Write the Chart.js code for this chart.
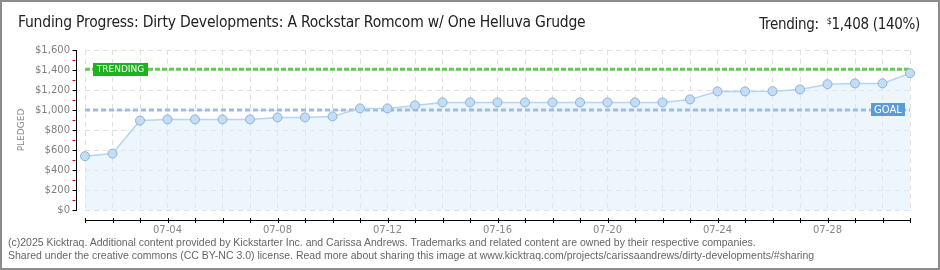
<!DOCTYPE html>
<html>
<head>
<meta charset="utf-8">
<script src="https://cdn.jsdelivr.net/npm/chart.js@4.4.1/dist/chart.umd.min.js"></script>
<style>
  html, body { margin: 0; padding: 0; background: #fff; }
  #wrap { position: relative; width: 940px; height: 270px; overflow: hidden; }
  #frame { position: absolute; left: 0; top: 0; width: 940px; height: 270px; box-sizing: border-box; border: 2px solid #8c8c8c; pointer-events: none; }
  canvas { position: absolute; left: 0; top: 0; }
  .title { position: absolute; left: 18px; top: 14px; font-family: "Liberation Sans Narrow", "DejaVu Sans Condensed", sans-serif; font-size: 15.5px; letter-spacing: -0.2px; line-height: 17px; color: #222; white-space: nowrap; }
  .trend { position: absolute; right: 20px; top: 13px; font-family: "Liberation Sans Narrow", "DejaVu Sans Condensed", sans-serif; font-size: 15px; letter-spacing: -0.3px; line-height: 17px; color: #222; white-space: nowrap; }
  .trend sup { font-size: 9px; vertical-align: 5px; }
  .foot { position: absolute; left: 8px; font-family: "Liberation Sans", sans-serif; font-size: 10.5px; line-height: 12px; color: #666; white-space: nowrap; }
</style>
</head>
<body>
<div id="wrap">
  <canvas id="c" width="940" height="270"></canvas>
  <div class="title">Funding Progress: Dirty Developments: A Rockstar Romcom w/ One Helluva Grudge</div>
  <div class="trend">Trending:&nbsp; <sup>$</sup>1,408 (140%)</div>
  <div class="foot" style="top:236px">(c)2025 Kicktraq. Additional content provided by Kickstarter Inc. and Carissa Andrews. Trademarks and related content are owned by their respective companies.</div>
  <div class="foot" style="top:249px">Shared under the creative commons (CC BY-NC 3.0) license. Read more about sharing this image at www.kicktraq.com/projects/carissaandrews/dirty-developments/#sharing</div>
  <div id="frame"></div>
</div>
<script>
const days = ["07-01","07-02","07-03","07-04","07-05","07-06","07-07","07-08","07-09","07-10",
              "07-11","07-12","07-13","07-14","07-15","07-16","07-17","07-18","07-19","07-20",
              "07-21","07-22","07-23","07-24","07-25","07-26","07-27","07-28","07-29","07-30","07-31"];
const pledged = [538, 564, 894, 906, 906, 906, 906, 926, 926, 936,
                 1016, 1016, 1046, 1076, 1076, 1076, 1076, 1076, 1076, 1076,
                 1076, 1076, 1106, 1186, 1186, 1188, 1206, 1258, 1266, 1266, 1368];
const TRENDING = 1408;
const GOAL = 1000;
const yTicks = [0, 200, 400, 600, 800, 1000, 1200, 1400, 1600];

const trendLine = days.map(() => TRENDING);
const goalLine = days.map(() => GOAL);

const axesPlugin = {
  id: 'axesPlugin',
  afterDraw(chart) {
    const ctx = chart.ctx, x = chart.scales.x, y = chart.scales.y, ca = chart.chartArea;
    ctx.save();
    const ax = ca.left - 8.5;
    ctx.strokeStyle = '#000'; ctx.lineWidth = 1;
    ctx.beginPath();
    ctx.moveTo(ax, y.getPixelForValue(1600)); ctx.lineTo(ax, y.getPixelForValue(0) + 0.5);
    ctx.stroke();
    yTicks.forEach(v => {
      const py = Math.round(y.getPixelForValue(v)) + 0.5;
      ctx.strokeStyle = '#000';
      ctx.beginPath(); ctx.moveTo(ax - 4, py); ctx.lineTo(ax + 0.5, py); ctx.stroke();
      if (v < 1600) {
        const pm = Math.round(y.getPixelForValue(v + 100)) + 0.5;
        ctx.strokeStyle = '#e00000';
        ctx.beginPath(); ctx.moveTo(ax - 4, pm); ctx.lineTo(ax - 1, pm); ctx.stroke();
      }
    });
    const ay = ca.bottom + 10.5;
    ctx.strokeStyle = '#000';
    ctx.beginPath(); ctx.moveTo(x.getPixelForValue(0), ay); ctx.lineTo(x.getPixelForValue(days.length - 1) + 1, ay); ctx.stroke();
    days.forEach((d, i) => {
      const px = Math.round(x.getPixelForValue(i)) + 0.5;
      ctx.beginPath(); ctx.moveTo(px, ay - 2.5); ctx.lineTo(px, ay + 2.5); ctx.stroke();
    });
    ctx.restore();
  },
  afterDatasetsDraw(chart) {
    const ctx = chart.ctx, x = chart.scales.x, y = chart.scales.y, ca = chart.chartArea;
    ctx.save();
    ctx.textBaseline = 'middle';
    ctx.textAlign = 'center';
    let ty = Math.round(y.getPixelForValue(TRENDING));
    ctx.fillStyle = '#1cb31c';
    ctx.fillRect(ca.left + 8, ty - 6, 55, 13);
    ctx.fillStyle = '#fff';
    ctx.font = '9px "DejaVu Sans"';
    ctx.fillText('TRENDING', ca.left + 8 + 27.5, ty + 0.5);
    let gy = Math.round(y.getPixelForValue(GOAL));
    ctx.fillStyle = '#5c9bd9';
    ctx.fillRect(ca.right - 39, gy - 7, 34, 13);
    ctx.fillStyle = '#fff';
    ctx.font = '10px "DejaVu Sans"';
    ctx.fillText('GOAL', ca.right - 39 + 17, gy);
    ctx.restore();
  }
};

new Chart(document.getElementById('c'), {
  type: 'line',
  data: {
    labels: days,
    datasets: [
      {
        data: pledged,
        borderColor: '#b6d5f2',
        borderWidth: 1.5,
        backgroundColor: 'rgba(220,235,252,0.5)',
        fill: 'origin',
        tension: 0,
        pointRadius: 4.5,
        pointBackgroundColor: '#c4ddf6',
        pointBorderColor: '#8fb0d2',
        pointBorderWidth: 1,
        order: 0
      },
      {
        data: trendLine,
        borderColor: '#62cc52',
        borderWidth: 3,
        borderDash: [5, 2],
        pointRadius: 0,
        fill: false,
        order: 1
      },
      {
        data: goalLine,
        borderColor: '#9dbee3',
        borderWidth: 3,
        borderDash: [5, 3],
        pointRadius: 0,
        fill: false,
        order: 2
      }
    ]
  },
  options: {
    responsive: false,
    animation: false,
    layout: { padding: { left: 0, top: 50, right: 30, bottom: 0 } },
    plugins: {
      legend: { display: false },
      tooltip: { enabled: false },
      filler: { drawTime: 'beforeDatasetsDraw' }
    },
    scales: {
      x: {
        type: 'category',
        offset: false,
        grid: { color: '#e0e0e0', lineWidth: 1, drawTicks: false },
        border: { display: false, dash: [5, 4] },
        ticks: {
          autoSkip: false, maxRotation: 0, minRotation: 0, padding: 14,
          color: '#888', font: { family: 'DejaVu Sans', size: 10 },
          callback: (v, i) => (i % 4 === 3 ? days[i] : '')
        },
        afterFit: s => { s.height = 60; }
      },
      y: {
        min: 0, max: 1600,
        grid: { color: '#e0e0e0', lineWidth: 1, drawTicks: false },
        border: { display: false, dash: [5, 4] },
        ticks: {
          stepSize: 200, padding: 15, color: '#808080',
          font: { family: 'DejaVu Sans', size: 10 },
          callback: v => '$' + v.toLocaleString('en-US')
        },
        title: { display: true, text: 'PLEDGED', color: '#888', font: { family: 'DejaVu Sans', size: 9 }, padding: { top: 16, bottom: 0 } },
        afterFit: s => { s.width = 85; }
      }
    }
  },
  plugins: [axesPlugin]
});
</script>
</body>
</html>
